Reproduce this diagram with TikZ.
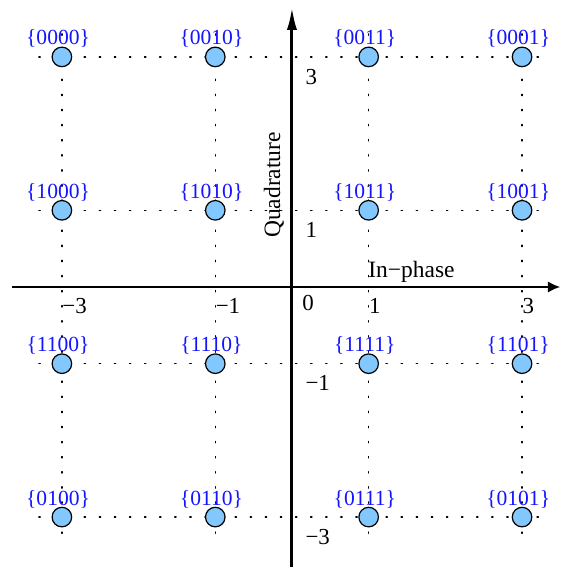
\documentclass[tikz,border=0pt]{standalone}
\usepackage{fontspec}
\setmainfont{Liberation Serif}
\usetikzlibrary{arrows.meta}
\definecolor{ptfill}{RGB}{130,200,255}
\definecolor{lblblue}{RGB}{20,20,255}
\tikzset{
  gridline/.style={line width=0.5pt, dash pattern=on 0.5pt off 5.1pt, line cap=round},
  axisline/.style={line width=1.1pt},
  pt/.style={circle, draw=black, line width=0.45pt, fill=ptfill, minimum size=0.255cm, inner sep=0pt},
  bits/.style={text=lblblue, font=\fontsize{8}{9}\selectfont, anchor=base, inner sep=0pt},
  tick/.style={font=\fontsize{8.5}{10}\selectfont, anchor=north west, inner sep=0pt},
  axlabel/.style={font=\fontsize{8.7}{10}\selectfont, inner sep=0pt}
}
\begin{document}
\begin{tikzpicture}
\useasboundingbox (-3.807,-3.651) rectangle (3.533,3.742);
% grid coordinates
\foreach \v in {-3,-1,1,3}{
  \coordinate (vt\v) at (\v,3.3);
  \coordinate (vb\v) at (\v,-3.3);
  \coordinate (hl\v) at (-3.3,\v);
  \coordinate (hr\v) at (3.3,\v);
  \draw[gridline] (vt\v) -- (vb\v);
  \draw[gridline] (hl\v) -- (hr\v);
}
% axes
\coordinate (xl) at (-3.65,0);
\coordinate (xr) at (3.5,0);
\coordinate (yb) at (0,-3.7);
\coordinate (yt) at (0,3.65);
\draw[axisline, -{Latex[length=4.6pt,width=4.2pt]}] (xl) -- (xr);
\draw[axisline, -{Latex[length=8.5pt,width=3.8pt]}] (yb) -- (yt);
% axis labels
\node[axlabel, anchor=base west] (ip) at (0.99,0.13) {In−phase};
\node[axlabel, anchor=base, rotate=90] (qd) at (-0.156,1.33) {Quadrature};
% ticks
\node[tick] (tx0) at (0.13,-0.10) {0};
\foreach \v/\t in {-3/−3,-1/−1,1/1,3/3}{
  \node[tick] (tx\v) at (\v,-0.145) {\t};
  \node[tick] (ty\v) at (0.17,\v-0.15) {\t};
}
% constellation points
\foreach \x/\y/\b in {-3/3/0000,-1/3/0010,1/3/0011,3/3/0001,
                      -3/1/1000,-1/1/1010,1/1/1011,3/1/1001,
                      -3/-1/1100,-1/-1/1110,1/-1/1111,3/-1/1101,
                      -3/-3/0100,-1/-3/0110,1/-3/0111,3/-3/0101}{
  \node[pt] (p\b) at (\x,\y) {};
  \node[bits, xshift=-0.05cm, yshift=0.156cm] (l\b) at (\x,\y) {\{\b\}};
}
\end{tikzpicture}
\end{document}
